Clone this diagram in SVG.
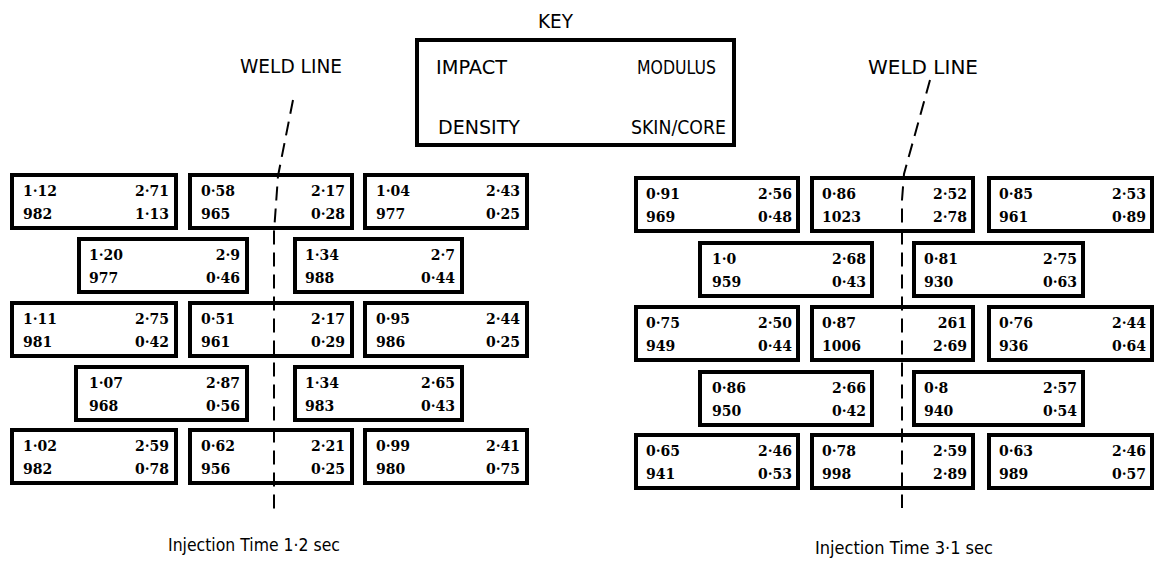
<svg xmlns="http://www.w3.org/2000/svg" width="1157" height="563" viewBox="0 0 1157 563">
<style>
.bg{fill:#fff}
.box{fill:#fff;stroke:#000;stroke-width:4}
.num{font-family:"DejaVu Serif","Liberation Serif",serif;font-weight:bold;font-size:14px;fill:#000}
.r{text-anchor:end}
.lab{font-family:"DejaVu Sans","Liberation Sans",sans-serif;font-size:19px;fill:#000}
.inj{font-family:"DejaVu Sans","Liberation Sans",sans-serif;font-size:17px;fill:#000}
.keybox{fill:#fff;stroke:#000;stroke-width:4}
.weld{fill:none;stroke:#000;stroke-width:2;stroke-dasharray:14 8}
</style>
<rect class="bg" x="0" y="0" width="1157" height="563"/>

<g id="key">
<text class="lab" x="538" y="28" textLength="35" lengthAdjust="spacingAndGlyphs">KEY</text>
<rect class="keybox" x="417" y="40" width="317" height="105"/>
<text class="lab" x="436" y="74" textLength="71" lengthAdjust="spacingAndGlyphs">IMPACT</text>
<text class="lab" x="637" y="74" textLength="79" lengthAdjust="spacingAndGlyphs">MODULUS</text>
<text class="lab" x="438" y="134" textLength="82" lengthAdjust="spacingAndGlyphs">DENSITY</text>
<text class="lab" x="631" y="134" textLength="95" lengthAdjust="spacingAndGlyphs">SKIN/CORE</text>
</g>

<g id="labels">
<text class="lab" x="240" y="73" textLength="102" lengthAdjust="spacingAndGlyphs">WELD LINE</text>
<text class="lab" x="868" y="74" textLength="110" lengthAdjust="spacingAndGlyphs">WELD LINE</text>
<text class="inj" x="168" y="551" textLength="172" lengthAdjust="spacingAndGlyphs">Injection Time 1·2 sec</text>
<text class="inj" x="815" y="554" textLength="178" lengthAdjust="spacingAndGlyphs">Injection Time 3·1 sec</text>
</g>

<!-- Left grid, injection time 1.2 s -->
<g id="L1"><rect class="box" x="12" y="175" width="164" height="53"/><text class="num" x="23" y="196">1·12</text><text class="num r" x="169" y="196">2·71</text><text class="num" x="23" y="219">982</text><text class="num r" x="169" y="219">1·13</text></g>
<g id="L2"><rect class="box" x="190" y="175" width="162" height="53"/><text class="num" x="201" y="196">0·58</text><text class="num r" x="345" y="196">2·17</text><text class="num" x="201" y="219">965</text><text class="num r" x="345" y="219">0·28</text></g>
<g id="L3"><rect class="box" x="365" y="175" width="162" height="53"/><text class="num" x="376" y="196">1·04</text><text class="num r" x="520" y="196">2·43</text><text class="num" x="376" y="219">977</text><text class="num r" x="520" y="219">0·25</text></g>
<g id="L4"><rect class="box" x="79" y="239" width="168" height="53"/><text class="num" x="89" y="260">1·20</text><text class="num r" x="240" y="260">2·9</text><text class="num" x="89" y="283">977</text><text class="num r" x="240" y="283">0·46</text></g>
<g id="L5"><rect class="box" x="295" y="239" width="167" height="53"/><text class="num" x="305" y="260">1·34</text><text class="num r" x="455" y="260">2·7</text><text class="num" x="305" y="283">988</text><text class="num r" x="455" y="283">0·44</text></g>
<g id="L6"><rect class="box" x="12" y="303" width="164" height="53"/><text class="num" x="23" y="324">1·11</text><text class="num r" x="169" y="324">2·75</text><text class="num" x="23" y="347">981</text><text class="num r" x="169" y="347">0·42</text></g>
<g id="L7"><rect class="box" x="190" y="303" width="162" height="53"/><text class="num" x="201" y="324">0·51</text><text class="num r" x="345" y="324">2·17</text><text class="num" x="201" y="347">961</text><text class="num r" x="345" y="347">0·29</text></g>
<g id="L8"><rect class="box" x="365" y="303" width="162" height="53"/><text class="num" x="376" y="324">0·95</text><text class="num r" x="520" y="324">2·44</text><text class="num" x="376" y="347">986</text><text class="num r" x="520" y="347">0·25</text></g>
<g id="L9"><rect class="box" x="76" y="367" width="171" height="53"/><text class="num" x="89" y="388">1·07</text><text class="num r" x="240" y="388">2·87</text><text class="num" x="89" y="411">968</text><text class="num r" x="240" y="411">0·56</text></g>
<g id="L10"><rect class="box" x="295" y="367" width="167" height="53"/><text class="num" x="305" y="388">1·34</text><text class="num r" x="455" y="388">2·65</text><text class="num" x="305" y="411">983</text><text class="num r" x="455" y="411">0·43</text></g>
<g id="L11"><rect class="box" x="12" y="430" width="164" height="53"/><text class="num" x="23" y="451">1·02</text><text class="num r" x="169" y="451">2·59</text><text class="num" x="23" y="474">982</text><text class="num r" x="169" y="474">0·78</text></g>
<g id="L12"><rect class="box" x="190" y="430" width="162" height="53"/><text class="num" x="201" y="451">0·62</text><text class="num r" x="345" y="451">2·21</text><text class="num" x="201" y="474">956</text><text class="num r" x="345" y="474">0·25</text></g>
<g id="L13"><rect class="box" x="365" y="430" width="162" height="53"/><text class="num" x="376" y="451">0·99</text><text class="num r" x="520" y="451">2·41</text><text class="num" x="376" y="474">980</text><text class="num r" x="520" y="474">0·75</text></g>

<!-- Right grid, injection time 3.1 s -->
<g id="R1"><rect class="box" x="636" y="178" width="162" height="53"/><text class="num" x="646" y="199">0·91</text><text class="num r" x="792" y="199">2·56</text><text class="num" x="646" y="222">969</text><text class="num r" x="792" y="222">0·48</text></g>
<g id="R2"><rect class="box" x="812" y="178" width="161" height="53"/><text class="num" x="822" y="199">0·86</text><text class="num r" x="967" y="199">2·52</text><text class="num" x="822" y="222">1023</text><text class="num r" x="967" y="222">2·78</text></g>
<g id="R3"><rect class="box" x="989" y="178" width="163" height="53"/><text class="num" x="999" y="199">0·85</text><text class="num r" x="1146" y="199">2·53</text><text class="num" x="999" y="222">961</text><text class="num r" x="1146" y="222">0·89</text></g>
<g id="R4"><rect class="box" x="700" y="243" width="172" height="53"/><text class="num" x="712" y="264">1·0</text><text class="num r" x="866" y="264">2·68</text><text class="num" x="712" y="287">959</text><text class="num r" x="866" y="287">0·43</text></g>
<g id="R5"><rect class="box" x="914" y="243" width="169" height="53"/><text class="num" x="924" y="264">0·81</text><text class="num r" x="1077" y="264">2·75</text><text class="num" x="924" y="287">930</text><text class="num r" x="1077" y="287">0·63</text></g>
<g id="R6"><rect class="box" x="636" y="307" width="162" height="53"/><text class="num" x="646" y="328">0·75</text><text class="num r" x="792" y="328">2·50</text><text class="num" x="646" y="351">949</text><text class="num r" x="792" y="351">0·44</text></g>
<g id="R7"><rect class="box" x="812" y="307" width="161" height="53"/><text class="num" x="822" y="328">0·87</text><text class="num r" x="967" y="328">261</text><text class="num" x="822" y="351">1006</text><text class="num r" x="967" y="351">2·69</text></g>
<g id="R8"><rect class="box" x="989" y="307" width="163" height="53"/><text class="num" x="999" y="328">0·76</text><text class="num r" x="1146" y="328">2·44</text><text class="num" x="999" y="351">936</text><text class="num r" x="1146" y="351">0·64</text></g>
<g id="R9"><rect class="box" x="700" y="372" width="172" height="53"/><text class="num" x="712" y="393">0·86</text><text class="num r" x="866" y="393">2·66</text><text class="num" x="712" y="416">950</text><text class="num r" x="866" y="416">0·42</text></g>
<g id="R10"><rect class="box" x="914" y="372" width="169" height="53"/><text class="num" x="924" y="393">0·8</text><text class="num r" x="1077" y="393">2·57</text><text class="num" x="924" y="416">940</text><text class="num r" x="1077" y="416">0·54</text></g>
<g id="R11"><rect class="box" x="636" y="435" width="162" height="53"/><text class="num" x="646" y="456">0·65</text><text class="num r" x="792" y="456">2·46</text><text class="num" x="646" y="479">941</text><text class="num r" x="792" y="479">0·53</text></g>
<g id="R12"><rect class="box" x="812" y="435" width="161" height="53"/><text class="num" x="822" y="456">0·78</text><text class="num r" x="967" y="456">2·59</text><text class="num" x="822" y="479">998</text><text class="num r" x="967" y="479">2·89</text></g>
<g id="R13"><rect class="box" x="989" y="435" width="163" height="53"/><text class="num" x="999" y="456">0·63</text><text class="num r" x="1146" y="456">2·46</text><text class="num" x="999" y="479">989</text><text class="num r" x="1146" y="479">0·57</text></g>

<g id="connectors">
<path class="weld" d="M293 100 L278 176 L274 232 L274 512"/>
<path class="weld" d="M930 80 L904 174 L902 200 L902 508"/>
</g>
</svg>
